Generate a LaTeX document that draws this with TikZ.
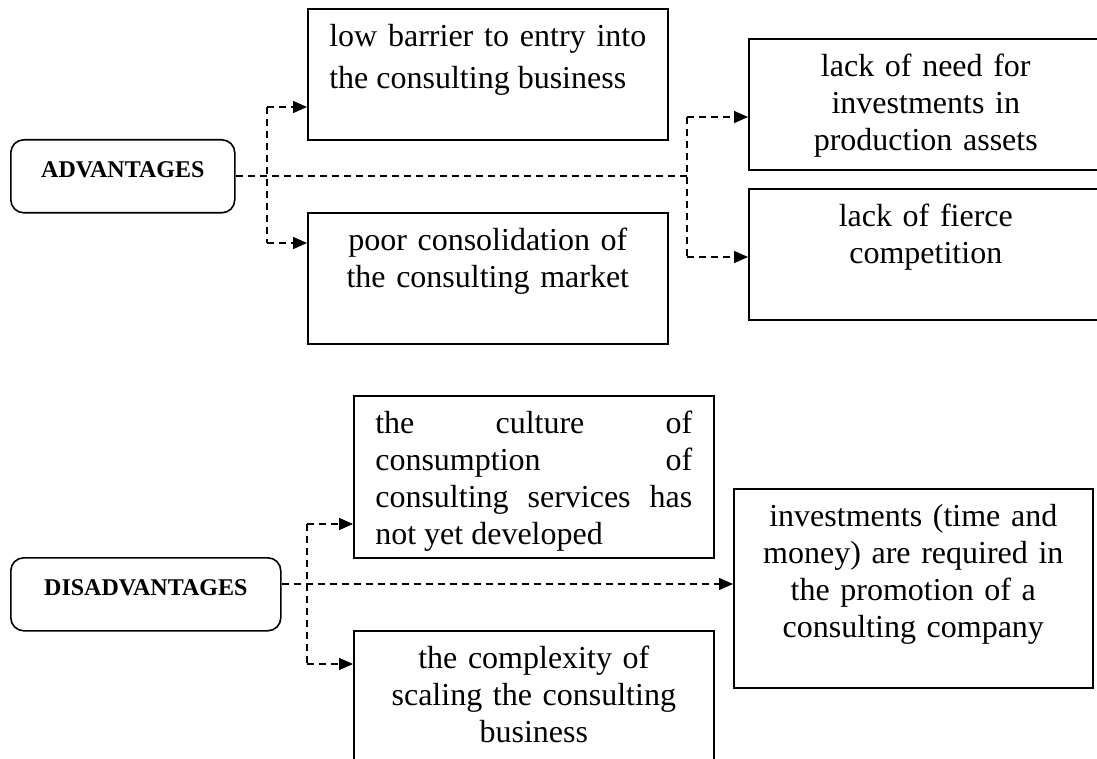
\documentclass[tikz,border=0pt]{standalone}
\usepackage{fontspec}
\setmainfont{Liberation Serif}
\usetikzlibrary{arrows.meta}
\tikzstyle{groupNode} = [
 rectangle,
 draw,
 line width=0.8pt,
 rounded corners=6.5pt,
 anchor=north west,
 align=center,
 font=\bfseries\fontsize{12}{14}\selectfont,
 inner ysep=11pt,
 text height=8pt,
 text depth=6.5pt
]
\tikzstyle{itemNode} = [
 rectangle,
 draw,
 line width=0.8pt,
 anchor=north west,
 align=center,
 font=\fontsize{16}{18.5}\selectfont,
 inner xsep=10.75pt,
 inner ysep=9pt,
 text width=158.5pt,
 text height=10pt
]
\tikzstyle{link} = [
 line width=0.75pt,
 dash pattern=on 3.5pt off 2.5pt
]
\tikzstyle{linkArrow} = [
 link,
 -{Triangle[length=7pt,width=6pt]}
]

\begin{document}
\begin{tikzpicture}[x=0.5pt,y=-0.5pt]
  \useasboundingbox (0,0) rectangle (1097,759);

  \node [groupNode, minimum width=112pt, text width=100pt] (adv) at (10,139) {ADVANTAGES};
  \node [itemNode, align=justify, font=\fontsize{16}{21}\selectfont, text depth=37.5pt] (barrier) at (307,8)
    {low barrier to entry into\linebreak the consulting business};
  \node [itemNode, text depth=37.5pt] (consol) at (307,212)
    {poor consolidation of \\ the consulting market};
  \node [itemNode, text width=155.5pt, text depth=37.5pt] (needs) at (748,38)
    {lack of need for \\ investments in \\ production assets};
  \node [itemNode, text width=155.5pt, text depth=37.5pt] (fierce) at (748,188)
    {lack of fierce \\ competition};

  \coordinate (advUp) at (267,107);
  \coordinate (advDown) at (267,243);
  \coordinate (advMid) at (687,176);
  \coordinate (needsUp) at (687,117);
  \coordinate (fierceDown) at (687,257);
  \draw [link] (advUp) -- (advDown);
  \draw [linkArrow] (advUp) -- (advUp -| barrier.west);
  \draw [linkArrow] (advDown) -- (advDown -| consol.west);
  \draw [link] (advMid -| adv.east) -- (advMid);
  \draw [link] (needsUp) -- (fierceDown);
  \draw [linkArrow] (needsUp) -- (needsUp -| needs.west);
  \draw [linkArrow] (fierceDown) -- (fierceDown -| fierce.west);

  \node [groupNode, minimum width=135pt, text width=120pt] (dis) at (10,557) {DISADVANTAGES};
  \node [itemNode, align=justify, text depth=53pt] (culture) at (353,395)
    {the culture of\linebreak consumption of\linebreak consulting services has\linebreak not yet developed};
  \node [itemNode, text depth=47pt] (scaling) at (353,630)
    {the complexity of \\ scaling the consulting \\ business};
  \node [itemNode, text width=158pt, text depth=71.5pt] (promo) at (733,488)
    {investments (time and \\ money) are required in \\ the promotion of a \\ consulting company};

  \coordinate (disUp) at (307,524);
  \coordinate (disDown) at (307,664);
  \coordinate (disMid) at (307,584);
  \draw [link] (disUp) -- (disDown);
  \draw [linkArrow] (disUp) -- (disUp -| culture.west);
  \draw [linkArrow] (disDown) -- (disDown -| scaling.west);
  \draw [linkArrow] (disMid -| dis.east) -- (disMid -| promo.west);
\end{tikzpicture}
\end{document}
